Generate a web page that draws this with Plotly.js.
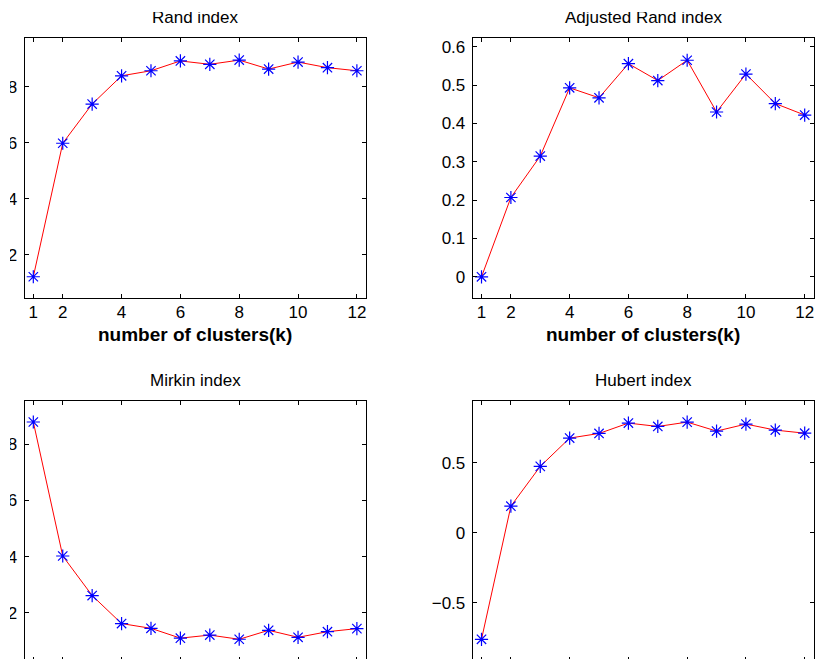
<!DOCTYPE html>
<html>
<head>
<meta charset="utf-8">
<script src="https://cdn.plot.ly/plotly-3.0.1.min.js"></script>
<style>
html,body{margin:0;padding:0;background:#fff;overflow:hidden;width:815px;height:659px;}
#chart{position:absolute;left:-40px;top:0;width:855px;height:700px;}
.mask{position:absolute;background:#fff;z-index:10;}
</style>
</head>
<body>
<div id="chart"></div>
<div class="mask" style="left:0;top:0;width:10px;height:659px;"></div>
<div class="mask" style="left:0;top:0;width:815px;height:12px;"></div>
<script>
// ---- data ----
const k = [1,2,3,4,5,6,7,8,9,10,11,12];
const randIndex = [0.121,0.598,0.738,0.839,0.857,0.892,0.880,0.895,0.863,0.888,0.868,0.857];
const adjRandIndex = [0.000,0.207,0.315,0.493,0.467,0.556,0.512,0.565,0.430,0.529,0.452,0.422];
const mirkinIndex = [0.880,0.402,0.261,0.161,0.144,0.109,0.120,0.105,0.137,0.112,0.132,0.143];
const hubertIndex = [-0.761,0.190,0.474,0.676,0.709,0.783,0.759,0.790,0.726,0.776,0.733,0.711];
const xTickVals = [1,2,4,6,8,10,12];
const titles = ["Rand index","Adjusted Rand index","Mirkin index","Hubert index"];
const xLabel = "number of clusters(k)";

const FONT = "Liberation Sans, Arial, Helvetica, sans-serif";
const series = [randIndex, adjRandIndex, mirkinIndex, hubertIndex];
const axNames = ["", "2", "3", "4"];

const traces = series.map((s, i) => ({
  x: k, y: s, type: "scatter", mode: "lines+markers",
  xaxis: "x" + axNames[i], yaxis: "y" + axNames[i],
  line: {color: "#ff0000", width: 1},
  marker: {symbol: "asterisk-open", size: 11, color: "#0000ff", line: {color: "#0000ff", width: 1.2}},
  showlegend: false, hoverinfo: "skip"
}));

const W = 855, H = 700;
const xDom = [[64.5/W, 405.7/W], [512.7/W, 853.5/W]];
const yDom = [[1-298.3/H, 1-38/H], [1-661/H, 1-400.7/H]];

function xa(dom, anchor, labelled) {
  const a = {
    domain: dom, anchor: anchor, range: [0.7, 12.3],
    tickmode: "array", tickvals: xTickVals, ticktext: xTickVals.map(String),
    ticks: "inside", ticklen: 4, tickcolor: "#000", tickwidth: 1,
    showline: true, linecolor: "#000", linewidth: 1, mirror: "allticks",
    showgrid: false, zeroline: false, ticklabelstandoff: -2,
    showticklabels: labelled,
    tickfont: {family: FONT, size: 17, color: "#000"}
  };
  if (labelled) a.title = {text: "<b>" + xLabel + "</b>", font: {family: FONT, size: 19, color: "#000"}, standoff: 6};
  return a;
}
function ya(dom, anchor, range, vals, texts) {
  return {
    domain: dom, anchor: anchor, range: range,
    tickmode: "array", tickvals: vals, ticktext: texts,
    ticks: "inside", ticklen: 4, tickcolor: "#000", tickwidth: 1,
    showline: true, linecolor: "#000", linewidth: 1, mirror: "allticks",
    showgrid: false, zeroline: false, ticklabelstandoff: 3,
    tickfont: {family: FONT, size: 17, color: "#000"}
  };
}

const layout = {
  width: W, height: H,
  margin: {l: 0, r: 0, t: 0, b: 0},
  paper_bgcolor: "#fff", plot_bgcolor: "#fff",
  xaxis: xa(xDom[0], "y", true),
  yaxis: ya(yDom[0], "x", [0.044, 0.974], [0.2,0.4,0.6,0.8], ["0.2","0.4","0.6","0.8"]),
  xaxis2: xa(xDom[1], "y2", true),
  yaxis2: ya(yDom[0], "x2", [-0.056, 0.623], [0,0.1,0.2,0.3,0.4,0.5,0.6], ["0","0.1","0.2","0.3","0.4","0.5","0.6"]),
  xaxis3: xa(xDom[0], "y3", false),
  yaxis3: ya(yDom[1], "x3", [0.0275, 0.956], [0.2,0.4,0.6,0.8], ["0.2","0.4","0.6","0.8"]),
  xaxis4: xa(xDom[1], "y4", false),
  yaxis4: ya(yDom[1], "x4", [-0.916, 0.943], [-0.5,0,0.5], ["\u22120.5","0","0.5"]),
  annotations: titles.map((t, i) => ({
    text: t, showarrow: false,
    xref: "x" + axNames[i] + " domain", yref: "y" + axNames[i] + " domain",
    x: 0.5, y: 1, xanchor: "center", yanchor: "bottom", yshift: 9,
    font: {family: FONT, size: 17, color: "#000"}
  }))
};

Plotly.newPlot("chart", traces, layout, {displayModeBar: false, staticPlot: true});
</script>
</body>
</html>
